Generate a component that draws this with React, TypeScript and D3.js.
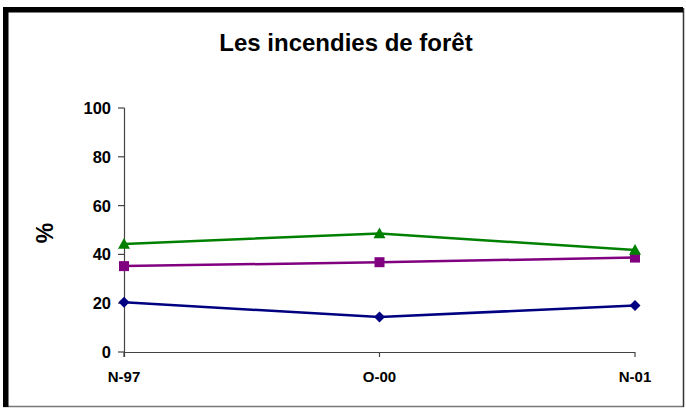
import React from "react";
import * as d3 from "d3";

const categories = ["N-97", "O-00", "N-01"];
const seriesGreen = [44.3, 48.6, 41.8];
const seriesPurple = [35.2, 36.8, 38.7];
const seriesBlue = [20.4, 14.3, 19.1];
const yTicks = [0, 20, 40, 60, 80, 100];
const title = "Les incendies de forêt";
const yLabel = "%";

const W = 686;
const H = 408;

export default function App() {
  const x = d3.scalePoint<string>().domain(categories).range([124, 635]);
  const y = d3.scaleLinear().domain([0, 100]).range([352, 108]);
  const line = d3
    .line<number>()
    .x((_, i) => x(categories[i]) as number)
    .y((d) => y(d));
  const font = "'Liberation Sans', Arial, sans-serif";

  const series = [
    { values: seriesBlue, color: "#000080", marker: "diamond" },
    { values: seriesPurple, color: "#800080", marker: "square" },
    { values: seriesGreen, color: "#008000", marker: "triangle" },
  ];

  const marker = (type: string, cx: number, cy: number, color: string, key: string) => {
    if (type === "diamond") {
      const r = 5.5;
      return (
        <path key={key} d={`M${cx},${cy - r}L${cx + r},${cy}L${cx},${cy + r}L${cx - r},${cy}Z`} fill={color} />
      );
    }
    if (type === "square") {
      const r = 5;
      return <rect key={key} x={cx - r} y={cy - r} width={2 * r} height={2 * r} fill={color} />;
    }
    const r = 6;
    return (
      <path key={key} d={`M${cx},${cy - r}L${cx + r},${cy + r * 0.8}L${cx - r},${cy + r * 0.8}Z`} fill={color} />
    );
  };

  return (
    <svg
      width={W}
      height={H}
      style={{ position: "absolute", left: 0, top: 0 }}
      xmlns="http://www.w3.org/2000/svg"
    >
      <rect x={0} y={0} width={W} height={H} fill="#fff" />
      {/* frame */}
      <line x1={3} y1={406.5} x2={684} y2={406.5} stroke="#777" strokeWidth={1.5} />
      <line x1={683.5} y1={8} x2={683.5} y2={407} stroke="#333" strokeWidth={1.5} />
      <rect x={3} y={7} width={680} height={5.5} fill="#000" />
      <rect x={3} y={7} width={5.5} height={400} fill="#000" />

      <text x={346} y={51} textAnchor="middle" fontFamily={font} fontWeight="bold" fontSize={24} fill="#000">
        {title}
      </text>

      {/* y axis */}
      <line x1={124.5} y1={y(100)} x2={124.5} y2={y(0) + 5} stroke="#444" strokeWidth={1.2} />
      {yTicks.map((t) => (
        <g key={t}>
          <line x1={118} y1={y(t)} x2={124.5} y2={y(t)} stroke="#444" strokeWidth={1.2} />
          <text
            x={111}
            y={y(t)}
            dy="0.36em"
            textAnchor="end"
            fontFamily={font}
            fontWeight="bold"
            fontSize={16.5}
            fill="#000"
          >
            {t}
          </text>
        </g>
      ))}
      <text
        transform={`translate(53,233) rotate(-90)`}
        textAnchor="middle"
        fontFamily={font}
        fontWeight="bold"
        fontSize={23}
        fill="#000"
      >
        {yLabel}
      </text>

      {/* x axis */}
      <line x1={124} y1={352.5} x2={635} y2={352.5} stroke="#444" strokeWidth={1.2} />
      {categories.map((c) => (
        <g key={c}>
          <line x1={x(c)} y1={352} x2={x(c)} y2={357} stroke="#444" strokeWidth={1.2} />
          <text
            x={x(c)}
            y={382}
            textAnchor="middle"
            fontFamily={font}
            fontWeight="bold"
            fontSize={15}
            fill="#000"
          >
            {c}
          </text>
        </g>
      ))}

      {series.map((s, si) => (
        <g key={si}>
          <path d={line(s.values) || ""} fill="none" stroke={s.color} strokeWidth={2.5} />
          {s.values.map((v, i) => marker(s.marker, x(categories[i]) as number, y(v), s.color, `${si}-${i}`))}
        </g>
      ))}
    </svg>
  );
}
